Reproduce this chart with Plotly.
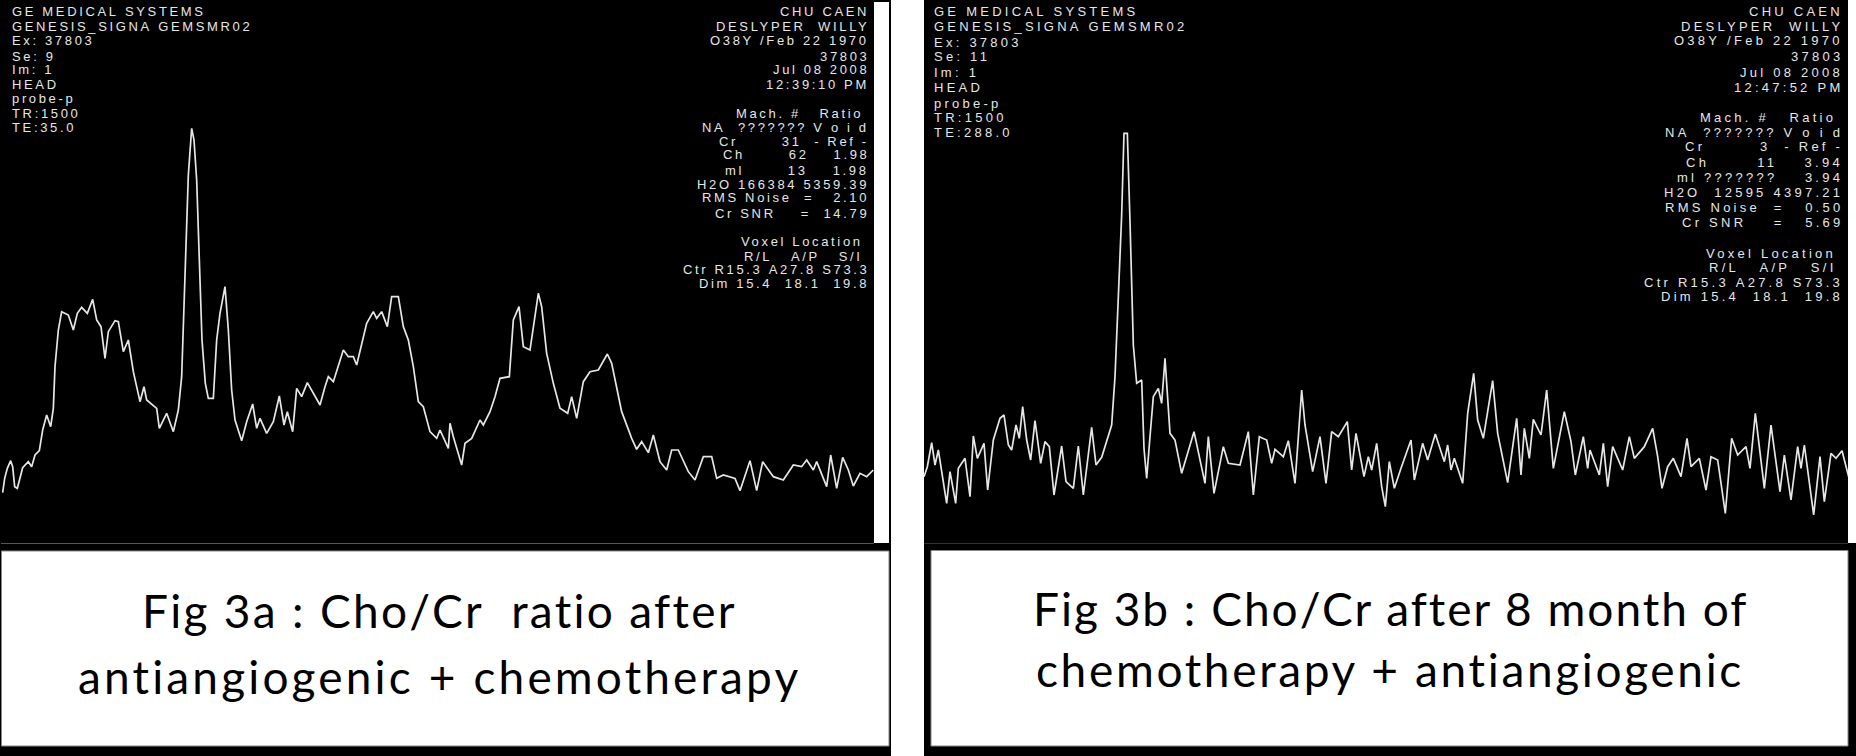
import plotly.graph_objects as go

# Spectrum readings: (sample position, signal depth below the top of the panel)
spectrum_a_left = [(8,1178),(14,1135),(22,1105),(32,1082),(38,1100),(44,1160),(52,1165),(60,1130),(68,1103),(85,1085),(95,1100),(105,1065),(118,1052),(128,990),(140,945),(152,980),(160,925),(165,800),(175,690),(185,635),(205,645),(220,690),(232,640),(245,622),(262,640),(278,598),(290,660),(303,680),(315,775),(325,695),(345,662),(355,665),(370,755),(385,720),(400,815),(420,905),(432,860),(440,900),(470,925),(478,985),(500,940),(520,995),(535,930),(545,830),(555,540),(565,225),(575,85),(582,120),(590,240),(598,515),(606,720),(616,850),(625,895),(640,895),(650,720),(660,640),(675,560),(685,690),(695,870),(705,960),(725,1022),(740,965),(758,912),(770,985),(780,955),(800,1000),(820,965),(838,888),(852,975),(862,935),(878,995),(890,865),(905,890),(922,848),(945,890),(960,915),(975,860),(985,830),(1000,845),(1015,795),(1030,750),(1045,770),(1060,770),(1070,795),(1085,730),(1100,670),(1120,635),(1130,655),(1145,635),(1162,680),(1175,590),(1195,590),(1210,680),(1225,720),(1240,800),(1255,905),(1270,920),(1290,995),(1310,1015),(1320,990),(1345,1045)]
spectrum_a_right = [(30,970),(40,1010),(48,1040),(65,1095),(75,1030),(95,1015),(120,960),(130,975),(150,935),(165,890),(180,835),(208,830),(220,660),(237,620),(250,740),(270,750),(295,580),(305,620),(320,760),(340,850),(360,925),(383,940),(395,890),(410,955),(430,845),(450,815),(475,810),(502,762),(515,790),(528,855),(545,935),(575,1015),(590,1048),(605,1025),(625,1058),(640,1005),(660,1085),(680,1110),(695,1050),(715,1050),(745,1115),(765,1140),(790,1070),(815,1070),(830,1135),(850,1125),(885,1135),(900,1172),(930,1082),(950,1172),(968,1085),(1000,1130),(1030,1140),(1060,1095),(1085,1100),(1100,1080),(1120,1110),(1130,1085),(1160,1160),(1172,1065),(1190,1165),(1208,1072),(1225,1110),(1240,1158),(1260,1120),(1280,1130),(1300,1110)]
spectrum_b_left = [(12,1130),(22,1100),(35,1028),(45,1095),(55,1050),(65,1110),(80,1210),(90,1115),(107,1210),(115,1105),(135,1075),(150,1190),(160,1008),(172,1075),(192,1030),(203,1170),(220,1020),(240,955),(252,945),(265,1035),(275,1050),(288,975),(298,1015),(308,920),(320,1020),(332,1080),(345,962),(362,1090),(375,1025),(388,1040),(402,1185),(425,1038),(438,1145),(460,1165),(475,1038),(490,1185),(515,982),(528,1095),(545,1072),(575,975),(585,830),(595,590),(605,345),(612,100),(622,100),(630,365),(640,735),(650,850),(665,840),(672,1045),(680,1135),(690,1010),(700,890),(715,865),(725,910),(735,775),(750,1000),(765,1020),(785,1120),(822,995),(855,1150),(865,1010),(882,1180),(910,1040),(925,1090),(960,1095),(985,995),(1000,1185),(1018,1010),(1040,1020),(1055,1090),(1065,1048),(1090,1070),(1105,1022),(1125,1150),(1145,870),(1155,975),(1178,1115),(1200,1010),(1218,1150),(1235,995),(1255,1010),(1282,965),(1295,1110),(1308,1000),(1332,1130),(1345,1070),(1355,1110),(1370,1030),(1385,1160),(1396,1220),(1408,1085)]
spectrum_b_right = [(25,1165),(45,1105),(75,1020),(85,1140),(110,1030),(125,1080),(148,1002),(175,1085),(185,1035),(195,1110),(205,1075),(230,1150),(245,940),(263,820),(275,960),(292,1015),(320,842),(335,1000),(365,1148),(392,955),(405,1125),(415,985),(430,1075),(442,958),(465,1005),(482,870),(502,1105),(535,935),(555,1025),(568,1125),(592,1010),(605,1105),(612,1050),(640,1125),(652,1030),(665,1160),(680,1040),(710,1110),(730,1010),(745,1075),(775,1040),(800,985),(815,1070),(828,1165),(845,1100),(862,1075),(885,1130),(903,1015),(915,1100),(940,1075),(960,1170),(975,1070),(995,1080),(1018,1240),(1037,1015),(1055,1065),(1080,1040),(1092,1105),(1108,940),(1135,1165),(1155,975),(1182,1175),(1195,1065),(1215,1200),(1235,1040),(1245,1105),(1255,1035),(1283,1245),(1302,1070),(1315,1205),(1335,1060),(1350,1075),(1368,1052),(1388,1130)]

info_left_a = ["GE MEDICAL SYSTEMS","GENESIS_SIGNA GEMSMR02","Ex: 37803","Se: 9","Im: 1","HEAD","probe-p","TR:1500","TE:35.0"]
info_left_b = ["GE MEDICAL SYSTEMS","GENESIS_SIGNA GEMSMR02","Ex: 37803","Se: 11","Im: 1","HEAD","probe-p","TR:1500","TE:288.0"]
info_top_a = ["CHU CAEN","DESLYPER  WILLY","O38Y /Feb 22 1970","37803","Jul 08 2008","12:39:10 PM"]
info_top_b = ["CHU CAEN","DESLYPER  WILLY","O38Y /Feb 22 1970","37803","Jul 08 2008","12:47:52 PM"]
ratio_a = ["Mach. #   Ratio ","NA  ??????? V o i d","Cr       31  - Ref -","Ch       62    1.98","ml       13    1.98","H2O 166384 5359.39","RMS Noise  =   2.10","Cr SNR    =  14.79"]
ratio_b = ["Mach. #   Ratio ","NA  ??????? V o i d","Cr        3  - Ref -","Ch       11    3.94","ml ???????    3.94","H2O  12595 4397.21","RMS Noise  =   0.50","Cr SNR    =   5.69"]
voxel_lines = ["Voxel Location ","R/L   A/P   S/I ","Ctr R15.3 A27.8 S73.3","Dim 15.4  18.1  19.8"]
caption_a = ["Fig 3a : Cho/Cr  ratio after","antiangiogenic + chemotherapy"]
caption_b = ["Fig 3b : Cho/Cr after 8 month of","chemotherapy + antiangiogenic"]

W, H = 1856, 756
OFFSET_A, OFFSET_A2 = 0, 1320
OFFSET_B, OFFSET_B2 = 2760, 4158
INK = "#e6e6e6"

def xs(points, off): return [p[0] + off for p in points]
def ys(points): return [p[1] for p in points]

fig = go.Figure()
fig.add_trace(go.Scatter(x=xs(spectrum_a_left, OFFSET_A) + xs(spectrum_a_right, OFFSET_A2),
                         y=ys(spectrum_a_left) + ys(spectrum_a_right),
                         mode="lines", line=dict(color=INK, width=1.7), xaxis="x", yaxis="y", showlegend=False))
fig.add_trace(go.Scatter(x=xs(spectrum_b_left, OFFSET_B) + xs(spectrum_b_right, OFFSET_B2),
                         y=ys(spectrum_b_left) + ys(spectrum_b_right),
                         mode="lines", line=dict(color=INK, width=1.7), xaxis="x2", yaxis="y2", showlegend=False))

def rect(x0, y0, x1, y1, fill, line=None):
    return dict(type="rect", xref="paper", yref="paper", x0=x0/W, x1=x1/W, y0=1-y0/H, y1=1-y1/H,
                fillcolor=fill, line=dict(color=line or fill, width=1 if line else 0), layer="below")

shapes = [
    rect(0, 0, 891, 756, "#000000"),
    rect(874, 2, 889, 543, "#ffffff"),
    rect(1, 543, 874, 544, "#555555"),
    rect(1.5, 551, 889, 746, "#ffffff", "#888888"),
    rect(924, 0, 1856, 756, "#000000"),
    rect(1848, 0, 1856, 543, "#ffffff"),
    rect(924, 543, 1848, 544, "#333333"),
    rect(931, 550.5, 1848, 746, "#ffffff", "#888888"),
]

annotations = []
def text(s, x, y, anchor, size=13, spacing=2.65, font="Liberation Sans", color=INK):
    annotations.append(dict(
        text=f'<span style="letter-spacing:{spacing}px">{s.replace(" ", "&nbsp;")}</span>',
        xref="paper", yref="paper", x=x/W, y=1-y/H, xanchor=anchor, yanchor="middle",
        showarrow=False, borderpad=0, font=dict(family=font, size=size, color=color)))

rows_left_a = [12,26,41,56,70,84,99,113,127]
rows_left_b = [12,27,42,57,72,87,103,117,132]
rows_top_a = [12,26,41,56,70,84]
rows_top_b = [12,26,41,56,72,87]
rows_ratio_a = [113,127,141,155,170,184,198,213]
rows_ratio_b = [117,132,147,162,177,192,207,222]
rows_vox_a = [241,256,269,284]
rows_vox_b = [253,267,282,297]

for s, y in zip(info_left_a, rows_left_a): text(s, 11, y, "left")
for s, y in zip(info_left_b, rows_left_b): text(s, 933, y, "left", spacing=3.25)
for s, y in zip(info_top_a, rows_top_a): text(s, 870, y, "right")
for s, y in zip(info_top_b, rows_top_b): text(s, 1844, y, "right", spacing=3.25)
for s, y in zip(ratio_a, rows_ratio_a): text(s, 870, y, "right")
for s, y in zip(ratio_b, rows_ratio_b): text(s, 1844, y, "right", spacing=3.25)
for s, y in zip(voxel_lines, rows_vox_a): text(s, 870, y, "right")
for s, y in zip(voxel_lines, rows_vox_b): text(s, 1844, y, "right", spacing=3.25)

CAPTION = dict(size=46, font="Lato", color="#000000")
text(caption_a[0], 439, 610, "center", spacing=2.3, **CAPTION)
text(caption_a[1], 439, 676, "center", spacing=3.15, **CAPTION)
text(caption_b[0], 1390, 608, "center", spacing=2.0, **CAPTION)
text(caption_b[1], 1390, 669, "center", spacing=2.66, **CAPTION)

hidden = dict(visible=False, fixedrange=True)
fig.update_layout(
    width=W, height=H, autosize=False, margin=dict(l=0, r=0, t=0, b=0, pad=0),
    paper_bgcolor="#ffffff", plot_bgcolor="rgba(0,0,0,0)", showlegend=False,
    xaxis=dict(domain=[0, 874/W], range=[0, 874*3], **hidden),
    yaxis=dict(domain=[1-543/H, 1], range=[1329, -300], **hidden),
    xaxis2=dict(domain=[924/W, 1848/W], range=[924*3, 1848*3], anchor="y2", **hidden),
    yaxis2=dict(domain=[1-543/H, 1], range=[1329, -300], anchor="x2", **hidden),
    shapes=shapes, annotations=annotations,
)
fig.write_html("out.html", post_script="document.body.style.margin='0';document.body.style.overflow='hidden';",
               config=dict(displayModeBar=False))
